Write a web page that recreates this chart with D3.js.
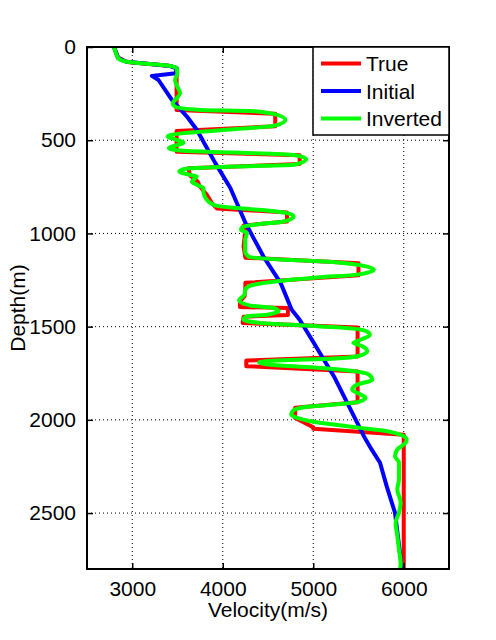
<!DOCTYPE html>
<html>
<head>
<meta charset="utf-8">
<script src="https://cdn.jsdelivr.net/npm/d3@7"></script>
<style>
  body { margin: 0; background: #fff; }
  text { font-family: "Liberation Sans", Arial, sans-serif; fill: #000; }
</style>
</head>
<body>
<svg width="496" height="640"></svg>
<script>
// true model (red)
var trueDepth = [0, 55, 80, 100, 112, 338, 358, 425, 450, 562, 580, 628, 650, 690, 720, 750, 793, 837, 866, 888, 936, 958, 980, 1070, 1130, 1160, 1225, 1265, 1300, 1338, 1365, 1395, 1400, 1438, 1447, 1480, 1505, 1660, 1682, 1712, 1740, 1905, 1935, 1990, 2040, 2048, 2080, 2800];
var trueVel   = [2800, 2840, 2940, 3400, 3490, 3490, 4580, 4580, 3490, 3490, 4850, 4850, 3620, 3640, 3720, 3750, 3824, 3880, 3935, 4710, 4710, 4230, 4250, 4230, 4250, 5500, 5500, 4250, 4250, 4240, 4190, 4190, 4720, 4720, 4230, 4220, 5490, 5490, 4260, 4260, 5490, 5490, 4800, 4800, 5000, 5000, 6000, 6000];

// initial model (blue)
var initDepth = [0, 16, 61, 79, 91, 102, 114, 141, 155, 177, 284, 373, 445, 623, 756, 943, 1124, 1265, 1410, 1463, 1588, 1767, 1910, 2089, 2160, 2230, 2357, 2498, 2571, 2800];
var initVel   = [2798, 2809, 2847, 2938, 3196, 3417, 3491, 3480, 3216, 3290, 3438, 3604, 3715, 3918, 4084, 4250, 4450, 4639, 4762, 4850, 5007, 5229, 5377, 5561, 5646, 5738, 5812, 5903, 5922, 5980];

// inverted model (green)
var invDepth = [0, 16, 61, 79, 91, 102, 114, 141, 177, 213, 248, 275, 302, 320, 338, 343, 359, 391, 423, 441, 462, 480, 498, 512, 543, 557, 566, 579, 602, 632, 641, 655, 668, 686, 695, 721, 739, 757, 775, 829, 852, 864, 877, 891, 909, 936, 950, 963, 980, 998, 1034, 1097, 1124, 1141, 1150, 1168, 1195, 1221, 1236, 1257, 1280, 1302, 1328, 1359, 1387, 1400, 1418, 1436, 1445, 1462, 1480, 1493, 1504, 1520, 1543, 1570, 1587, 1605, 1632, 1659, 1673, 1680, 1691, 1709, 1721, 1736, 1757, 1784, 1811, 1837, 1864, 1882, 1905, 1918, 1930, 1948, 1971, 1989, 2007, 2025, 2043, 2061, 2084, 2105, 2123, 2159, 2195, 2230, 2320, 2373, 2444, 2498, 2552, 2623, 2695, 2766, 2800];
var invVel   = [2798, 2809, 2847, 2938, 3196, 3417, 3491, 3498, 3473, 3498, 3528, 3491, 3447, 3473, 3750, 4304, 4562, 4692, 4562, 4119, 3565, 3390, 3491, 3565, 3405, 3565, 4119, 4784, 4924, 4784, 4119, 3565, 3520, 3639, 3713, 3658, 3713, 3787, 3787, 3842, 3935, 4156, 4489, 4710, 4784, 4673, 4415, 4230, 4201, 4267, 4248, 4248, 4285, 4673, 5116, 5486, 5670, 5486, 5043, 4600, 4304, 4248, 4241, 4180, 4304, 4562, 4617, 4489, 4267, 4230, 4415, 4858, 5301, 5559, 5626, 5523, 5442, 5541, 5597, 5486, 5154, 4673, 4400, 4636, 5043, 5412, 5615, 5652, 5486, 5430, 5523, 5578, 5486, 5227, 4932, 4784, 4755, 4821, 4969, 5227, 5523, 5818, 5985, 6032, 6021, 5929, 5903, 5947, 5947, 5929, 5966, 5947, 5910, 5929, 5947, 5966, 5960];

var xTicks = [3000, 4000, 5000, 6000];
var yTicks = [0, 500, 1000, 1500, 2000, 2500];
var seriesNames = ['True', 'Initial', 'Inverted'];
var seriesColors = ['#ff0000', '#0000ff', '#00ff00'];

var svg = d3.select('svg');
var margin = { top: 47, right: 47, bottom: 71, left: 87 };
var width = 496 - margin.left - margin.right;
var height = 640 - margin.top - margin.bottom;

var g = svg.append('g')
  .attr('transform', 'translate(' + margin.left + ',' + margin.top + ')');

var x = d3.scaleLinear()
  .domain([2500, 6500])
  .range([0, width]);

var y = d3.scaleLinear()
  .domain([0, 2800])
  .range([0, height]);

// dotted grid
g.selectAll('.gx')
  .data(xTicks)
  .enter().append('line')
  .attr('x1', function(d) { return x(d); })
  .attr('x2', function(d) { return x(d); })
  .attr('y1', 0)
  .attr('y2', height)
  .attr('stroke', '#000')
  .attr('stroke-width', 1)
  .attr('stroke-dasharray', '1,3');

g.selectAll('.gy')
  .data(yTicks.filter(function(d) { return d > 0; }))
  .enter().append('line')
  .attr('x1', 0)
  .attr('x2', width)
  .attr('y1', function(d) { return y(d); })
  .attr('y2', function(d) { return y(d); })
  .attr('stroke', '#000')
  .attr('stroke-width', 1)
  .attr('stroke-dasharray', '1,3');

// curves
function makeSeries(depths, vels) {
  return depths.map(function(d, i) { return { depth: d, vel: vels[i] }; });
}

var series = [
  makeSeries(trueDepth, trueVel),
  makeSeries(initDepth, initVel),
  makeSeries(invDepth, invVel)
];

// true model stays blocky, the others are smooth
var curves = [d3.curveLinear, d3.curveLinear, d3.curveMonotoneY];

svg.append('clipPath').attr('id', 'clip')
  .append('rect').attr('width', width).attr('height', height);

g.append('g')
  .attr('clip-path', 'url(#clip)')
  .selectAll('path')
  .data(series)
  .enter().append('path')
  .attr('d', function(d, i) {
    return d3.line()
      .curve(curves[i])
      .x(function(p) { return x(p.vel); })
      .y(function(p) { return y(p.depth); })(d);
  })
  .attr('fill', 'none')
  .attr('stroke', function(d, i) { return seriesColors[i]; })
  .attr('stroke-width', 4)
  .attr('stroke-linejoin', 'round');

// axes (box with inward ticks)
var tickLen = 6;
var fmt = d3.format('d');
g.append('g')
  .attr('transform', 'translate(0,' + height + ')')
  .call(d3.axisBottom(x).tickValues(xTicks).tickFormat(fmt).tickSizeInner(-tickLen).tickSizeOuter(0).tickPadding(12));
g.append('g')
  .call(d3.axisTop(x).tickValues(xTicks).tickSizeInner(-tickLen).tickSizeOuter(0).tickFormat(''));
g.append('g')
  .call(d3.axisLeft(y).tickValues(yTicks).tickFormat(fmt).tickSizeInner(-tickLen).tickSizeOuter(0).tickPadding(11));
g.append('g')
  .attr('transform', 'translate(' + width + ',0)')
  .call(d3.axisRight(y).tickValues(yTicks).tickSizeInner(-tickLen).tickSizeOuter(0).tickFormat(''));

g.selectAll('.domain').remove();
g.selectAll('.tick line').attr('stroke', '#000').attr('stroke-width', 1.5);
g.selectAll('.tick text')
  .attr('font-size', 21)
  .attr('font-family', '"Liberation Sans", Arial, sans-serif');

g.append('rect')
  .attr('width', width)
  .attr('height', height)
  .attr('fill', 'none')
  .attr('stroke', '#000')
  .attr('stroke-width', 2);

// labels
svg.append('text')
  .attr('x', margin.left + width / 2)
  .attr('y', 617)
  .attr('text-anchor', 'middle')
  .attr('font-size', 21)
  .text('Velocity(m/s)');

svg.append('text')
  .attr('transform', 'translate(25,' + (margin.top + height / 2) + ') rotate(-90)')
  .attr('text-anchor', 'middle')
  .attr('font-size', 21)
  .text('Depth(m)');

// legend
var legend = svg.append('g')
  .attr('transform', 'translate(313,47)');

legend.append('rect')
  .attr('width', 449 - 313)
  .attr('height', 88)
  .attr('fill', '#fff')
  .attr('stroke', '#000')
  .attr('stroke-width', 1.5);

var items = legend.selectAll('.item')
  .data(seriesNames)
  .enter().append('g')
  .attr('transform', function(d, i) { return 'translate(0,' + (16.5 + i * 27.5) + ')'; });

items.append('line')
  .attr('x1', 8)
  .attr('x2', 48)
  .attr('stroke', function(d, i) { return seriesColors[i]; })
  .attr('stroke-width', 4);

items.append('text')
  .attr('x', 53)
  .attr('dy', '0.36em')
  .attr('font-size', 21)
  .text(function(d) { return d; });
</script>
</body>
</html>
